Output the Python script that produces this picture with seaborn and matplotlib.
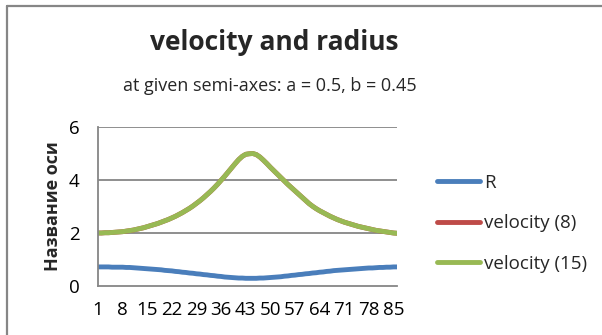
import matplotlib
matplotlib.use("Agg")
import matplotlib.pyplot as plt
from matplotlib.lines import Line2D
import numpy as np
import pandas as pd
import seaborn as sns

# Point numbers along the trajectory
points = list(range(1, 87))

# Radius R at each point
radius = [
    0.72, 0.72, 0.72, 0.72, 0.71, 0.71, 0.71, 0.71, 0.70, 0.70, 0.69,
    0.68, 0.67, 0.66, 0.65, 0.64, 0.63, 0.62, 0.61, 0.59, 0.58,
    0.57, 0.55, 0.54, 0.52, 0.51, 0.49, 0.48, 0.46, 0.45, 0.43,
    0.42, 0.40, 0.39, 0.37, 0.36, 0.34, 0.33, 0.32, 0.31, 0.30,
    0.30, 0.29, 0.29, 0.29, 0.29, 0.30, 0.30,
    0.31, 0.32, 0.33, 0.34, 0.35, 0.37, 0.38, 0.40, 0.41, 0.43,
    0.44, 0.46, 0.47, 0.49, 0.50, 0.52, 0.53, 0.55, 0.56, 0.58,
    0.59, 0.60, 0.61, 0.62, 0.63, 0.64, 0.65, 0.66, 0.67, 0.68,
    0.68, 0.69, 0.70, 0.70, 0.71, 0.71, 0.72, 0.72,
]

# Velocity computed with 15 terms
velocity_15 = [
    2.00, 2.00, 2.01, 2.01, 2.02, 2.03, 2.04, 2.05, 2.07, 2.09,
    2.11, 2.14, 2.17, 2.20, 2.24, 2.28, 2.32, 2.36, 2.41, 2.46,
    2.51, 2.57, 2.63, 2.70, 2.77, 2.85, 2.93, 3.02, 3.12, 3.22,
    3.33, 3.45, 3.57, 3.70, 3.84, 3.99, 4.14, 4.30, 4.46, 4.62,
    4.77, 4.89, 4.97, 4.99, 5.00, 4.96, 4.87, 4.75, 4.62, 4.48,
    4.35, 4.22, 4.09, 3.96, 3.83, 3.71, 3.59, 3.47, 3.35, 3.23,
    3.11, 3.01, 2.92, 2.84, 2.77, 2.70, 2.63, 2.57, 2.51, 2.46,
    2.41, 2.37, 2.33, 2.29, 2.25, 2.22, 2.19, 2.16, 2.13, 2.10,
    2.08, 2.06, 2.04, 2.02, 2.00, 1.99,
]

# Velocity computed with 8 terms (coincides with the 15-term result)
velocity_8 = list(velocity_15)

series_names = ["R", "velocity (8)", "velocity (15)"]
series_colors = ["#4A7EBB", "#BE4B48", "#98B954"]
x_ticks = [1, 8, 15, 22, 29, 36, 43, 50, 57, 64, 71, 78, 85]
y_ticks = [0, 2, 4, 6]

df = pd.DataFrame({
    "point": points * 3,
    "value": radius + velocity_8 + velocity_15,
    "series": [series_names[0]] * len(points)
              + [series_names[1]] * len(points)
              + [series_names[2]] * len(points),
})

sns.set_theme(style="white")
plt.rcParams["font.family"] = ["Open Sans", "DejaVu Sans"]

W, H = 602, 335
fig = plt.figure(figsize=(W / 100, H / 100), dpi=100)
fig.patch.set_facecolor("white")

# plot area in pixel coordinates
left, right, top, bottom = 98, 397, 127, 286
ax = fig.add_axes([left / W, 1 - bottom / H, (right - left) / W, (bottom - top) / H])

sns.lineplot(data=df, x="point", y="value", hue="series",
             hue_order=series_names, palette=series_colors,
             linewidth=3.5, legend=False, ax=ax, sort=False)
for ln in ax.get_lines():
    ln.set_solid_capstyle("round")
    ln.set_solid_joinstyle("round")

ax.set_xlim(points[0], points[-1])
ax.set_ylim(0, 6)
ax.set_xticks(x_ticks)
ax.set_xticklabels([str(t) for t in x_ticks])
ax.set_yticks(y_ticks)
ax.set_yticklabels([str(t) for t in y_ticks])
ax.tick_params(axis="both", length=0, labelsize=13.5, colors="black")
ax.tick_params(axis="y", pad=13.5)
ax.tick_params(axis="x", pad=11)
ax.set_xlabel("")
ax.set_ylabel("Название оси", fontsize=13, fontweight="bold", labelpad=5)

grid_color = "#868686"
for y in y_ticks[1:]:
    ax.axhline(y, color=grid_color, linewidth=1.3, zorder=0)
for side in ["top", "right"]:
    ax.spines[side].set_visible(False)
for side in ["left", "bottom"]:
    ax.spines[side].set_color(grid_color)
    ax.spines[side].set_linewidth(1.3)

# titles
fig.text(274 / W, 1 - 43 / H, "velocity and radius", ha="center", va="center",
         fontsize=19, fontweight="bold")
fig.text(270 / W, 1 - 86 / H, "at given semi-axes: a = 0.5, b = 0.45",
         ha="center", va="center", fontsize=13)

# legend
handles = [Line2D([], [], color=c, linewidth=3.5, solid_capstyle="round")
           for c in series_colors]
fig.legend(handles, series_names, loc="upper left",
           bbox_to_anchor=(437 / W, 1 - 174 / H), frameon=False,
           fontsize=13.5, handlelength=2.3, handletextpad=0.2,
           labelspacing=1.2, borderpad=0, borderaxespad=0)

# chart frame (top and left edges)
fig.add_artist(Line2D([6.5 / W, 1.0], [1 - 5.5 / H, 1 - 5.5 / H],
                      transform=fig.transFigure, color=grid_color, linewidth=1.6))
fig.add_artist(Line2D([6.5 / W, 6.5 / W], [0, 1 - 5.5 / H],
                      transform=fig.transFigure, color=grid_color, linewidth=1.6))

fig.savefig("out.png", dpi=100, facecolor="white")
